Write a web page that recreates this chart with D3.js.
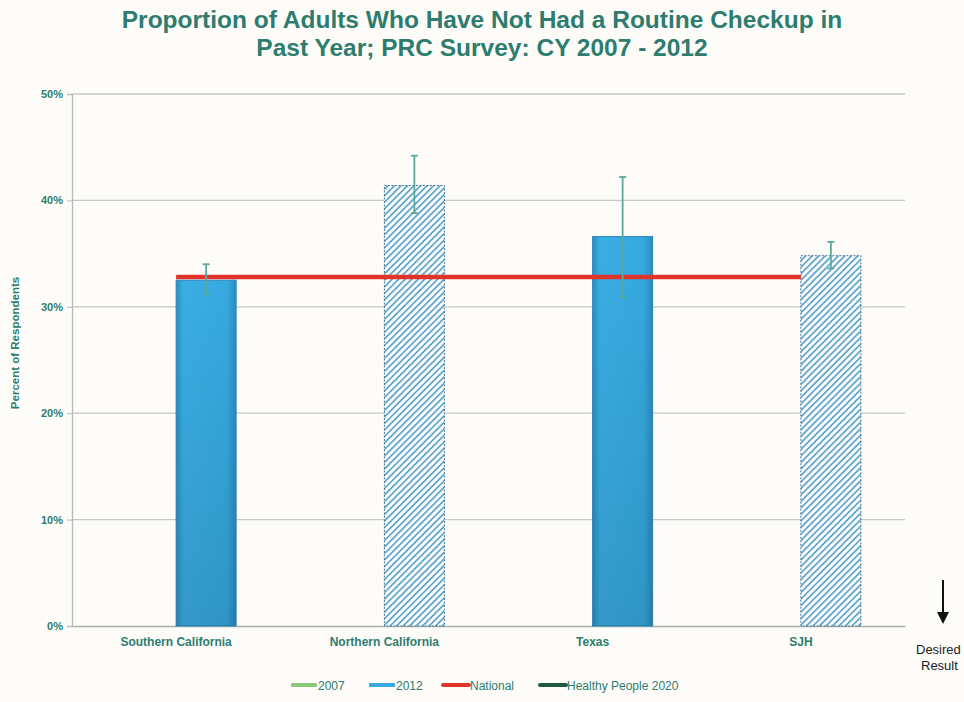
<!DOCTYPE html>
<html><head><meta charset="utf-8">
<script src="https://cdn.jsdelivr.net/npm/d3@7"></script>
<style>body{margin:0;background:#fdfcf9;}svg{display:block;font-family:"Liberation Sans",Arial,sans-serif;}</style>
</head><body><svg id="c" width="964" height="702"></svg>
<script>
const categories = ["Southern California","Northern California","Texas","SJH"];
const years = ["2007","2012"];
const values2012 = [32.5, 41.4, 36.6, 34.8];
const errLow = [31.2, 38.8, 30.9, 33.6];
const errHigh = [34.0, 44.2, 42.2, 36.1];
const hatched = [false, true, false, true];
const nationalValue = 32.8;
const yTicks = [0,10,20,30,40,50];
const legendItems = ["2007","2012","National","Healthy People 2020"];
const legendColors = ["#8cc97a","#36a9e0","#e0342a","#1f5a45"];

const svg = d3.select("#c");
const W = 964, H = 702;
const m = {l:72, r:59, t:94, b:76};
const x = d3.scaleBand().domain(categories).range([m.l, W-m.r]);
const y = d3.scaleLinear().domain([0,50]).range([H-m.b, m.t]);

const defs = svg.append("defs");
const g = defs.append("linearGradient").attr("id","bg1").attr("x1",0).attr("x2",1);
g.append("stop").attr("offset","0%").attr("stop-color","#2a8fc4");
g.append("stop").attr("offset","12%").attr("stop-color","#3aaee4");
g.append("stop").attr("offset","85%").attr("stop-color","#36a9e0");
g.append("stop").attr("offset","100%").attr("stop-color","#2b8cc0");
const g2 = defs.append("linearGradient").attr("id","bgv").attr("x1",0).attr("x2",0).attr("y1",0).attr("y2",1);
g2.append("stop").attr("offset","0%").attr("stop-color","#000").attr("stop-opacity",0);
g2.append("stop").attr("offset","100%").attr("stop-color","#000").attr("stop-opacity",0.12);
const pat = defs.append("pattern").attr("id","hatch").attr("patternUnits","userSpaceOnUse")
  .attr("width",4.6).attr("height",4.6).attr("patternTransform","rotate(45)");
pat.append("rect").attr("width",4.6).attr("height",4.6).attr("fill","#ffffff");
pat.append("rect").attr("width",1.7).attr("height",4.6).attr("fill","#5aa2cc");

// title
svg.append("text").attr("x",482).attr("y",28).attr("text-anchor","middle")
  .attr("font-size",24.5).attr("font-weight","bold").attr("fill","#2e7c6e")
  .text("Proportion of Adults Who Have Not Had a Routine Checkup in");
svg.append("text").attr("x",482).attr("y",56).attr("text-anchor","middle")
  .attr("font-size",24.5).attr("font-weight","bold").attr("fill","#2e7c6e")
  .text("Past Year; PRC Survey: CY 2007 - 2012");

// grid
svg.append("g").selectAll("line").data(yTicks.filter(d=>d>0)).join("line")
  .attr("x1",m.l).attr("x2",W-m.r).attr("y1",d=>y(d)).attr("y2",d=>y(d))
  .attr("stroke","#c5c9c6").attr("stroke-width",1.3);

// y axis
const ya = svg.append("g").attr("transform",`translate(${m.l},0)`)
  .call(d3.axisLeft(y).tickValues(yTicks).tickFormat(d=>d+"%").tickSize(5).tickPadding(4));
ya.select(".domain").attr("stroke","#b5bab7").attr("stroke-width",1.3);
ya.selectAll(".tick line").attr("stroke","#b5bab7");
ya.selectAll("text").attr("font-size",11).attr("font-weight","bold").attr("fill","#2e7c6e")
  .attr("font-family","Liberation Sans, Arial, sans-serif");

// x axis
const xa = svg.append("g").attr("transform",`translate(0,${y(0)})`)
  .call(d3.axisBottom(x).tickSize(0).tickPadding(11));
xa.select(".domain").attr("stroke","#a9aeab").attr("stroke-width",1.5);
xa.selectAll("text").attr("font-size",12).attr("font-weight","bold").attr("fill","#2e7c6e")
  .attr("font-family","Liberation Sans, Arial, sans-serif");

// bars (2012 slot: right half of each category)
const bw = 60;
const barX = i => x(categories[i]) + x.bandwidth()/2;
const bars = svg.append("g");
bars.selectAll("rect.b").data(values2012).join("rect").attr("class","b")
  .attr("x",(d,i)=>barX(i)).attr("width",bw)
  .attr("y",d=>y(d)).attr("height",d=>y(0)-y(d))
  .attr("fill",(d,i)=>hatched[i]?"url(#hatch)":"url(#bg1)")
  .attr("stroke",(d,i)=>hatched[i]?"#3f7596":"#2a86b8")
  .attr("stroke-width",1).attr("stroke-dasharray",(d,i)=>hatched[i]?"2,1.5":null);
bars.selectAll("rect.s").data(values2012.filter((d,i)=>!hatched[i])).join("rect").attr("class","s")
  .attr("x",(d)=>barX(values2012.indexOf(d))).attr("width",bw)
  .attr("y",d=>y(d)).attr("height",d=>y(0)-y(d)).attr("fill","url(#bgv)");

// national line
svg.append("line").attr("x1",barX(0)).attr("x2",barX(3))
  .attr("y1",y(nationalValue)).attr("y2",y(nationalValue))
  .attr("stroke","#e0342a").attr("stroke-width",4.5);

// error bars
const eg = svg.append("g").attr("stroke","#5aa99a").attr("stroke-width",1.8);
values2012.forEach((v,i)=>{
  const cx = barX(i) + bw/2;
  eg.append("line").attr("x1",cx).attr("x2",cx).attr("y1",y(errHigh[i])).attr("y2",y(errLow[i]));
  eg.append("line").attr("x1",cx-3.5).attr("x2",cx+3.5).attr("y1",y(errHigh[i])).attr("y2",y(errHigh[i]));
  eg.append("line").attr("x1",cx-3.5).attr("x2",cx+3.5).attr("y1",y(errLow[i])).attr("y2",y(errLow[i]));
});

// y label
svg.append("text").attr("transform","translate(19,343) rotate(-90)").attr("text-anchor","middle")
  .attr("font-size",11.5).attr("font-weight","bold").attr("fill","#2e7c6e").text("Percent of Respondents");

// legend
const lx = [291, 369, 443, 540];
const lg = svg.append("g");
legendItems.forEach((t,i)=>{
  if(i<2){
    lg.append("rect").attr("x",lx[i]).attr("y",683).attr("width",26).attr("height",4)
      .attr("fill",legendColors[i]).attr("rx",1);
  } else {
    lg.append("line").attr("x1",lx[i]).attr("x2",lx[i]+26).attr("y1",685).attr("y2",685)
      .attr("stroke",legendColors[i]).attr("stroke-width",4).attr("stroke-linecap","round");
  }
  lg.append("text").attr("x",lx[i]+27).attr("y",689.5).attr("font-size",12)
    .attr("fill","#2e7c6e").text(t);
});

// desired result arrow
svg.append("line").attr("x1",943).attr("x2",943).attr("y1",580).attr("y2",614)
  .attr("stroke","#111").attr("stroke-width",2);
svg.append("path").attr("d","M937,612 L949,612 L943,624 Z").attr("fill","#111");
svg.append("text").attr("x",916).attr("y",654).attr("font-size",13).attr("fill","#222").text("Desired");
svg.append("text").attr("x",921).attr("y",670).attr("font-size",13).attr("fill","#222").text("Result");
</script></body></html>
